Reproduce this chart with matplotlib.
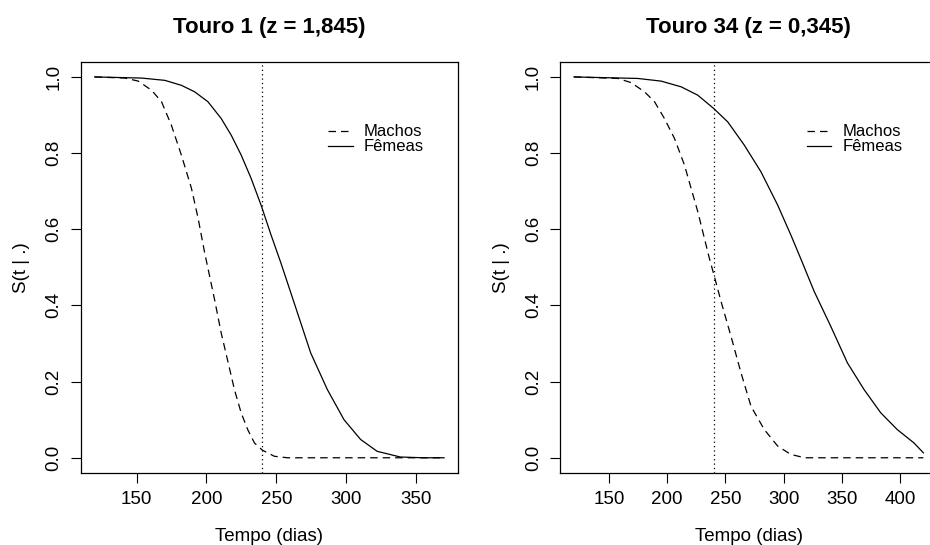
import matplotlib
matplotlib.use("Agg")
import matplotlib.pyplot as plt

plt.rcParams['font.family'] = ['Liberation Sans', 'DejaVu Sans']

# Touro 1 (z = 1,845) - survival curves
t1_femeas = [120, 153.6, 170.2, 182, 191.5, 201, 210.5, 217.7, 224.8, 231.9, 239, 246.2, 253.3, 262.8,
             274.6, 286.5, 298.4, 310.3, 322.1, 338.7, 355, 370]
s1_femeas = [1.0, 0.997, 0.991, 0.978, 0.961, 0.935, 0.891, 0.847, 0.795, 0.734, 0.664, 0.585, 0.511, 0.406,
             0.275, 0.179, 0.100, 0.048, 0.017, 0.002, 0.0, 0.0]
t1_machos = [120, 141.7, 151.2, 160.7, 167.8, 174.9, 182, 189.2, 194, 198.6, 205.8, 210.5, 215.3, 220,
             224.8, 229.5, 234.3, 240, 248.5, 258, 300, 370]
s1_machos = [1.0, 0.997, 0.989, 0.965, 0.935, 0.873, 0.795, 0.708, 0.629, 0.540, 0.415, 0.328, 0.253, 0.179,
             0.118, 0.074, 0.039, 0.020, 0.004, 0.0, 0.0, 0.0]

# Touro 34 (z = 0,345)
t34_femeas = [120, 174.8, 194.8, 212, 226.3, 240, 252, 266.2, 280.5, 294.8, 306.2, 314.8, 326.2, 340.5,
              354.8, 369.1, 383.4, 397.6, 411.9, 420]
s34_femeas = [1.0, 0.996, 0.989, 0.974, 0.952, 0.917, 0.882, 0.821, 0.751, 0.664, 0.585, 0.522, 0.437, 0.345,
              0.249, 0.179, 0.118, 0.074, 0.039, 0.013]
t34_machos = [120, 157.7, 169.1, 180.5, 189.1, 197.6, 206.2, 214.8, 220.5, 226.3, 231.9, 236.2, 240, 246.3,
              254.8, 263.4, 272, 283.4, 294.8, 306, 318, 360, 420]
s34_machos = [1.0, 0.996, 0.985, 0.961, 0.935, 0.891, 0.839, 0.769, 0.708, 0.646, 0.577, 0.524, 0.482, 0.410,
              0.319, 0.223, 0.135, 0.074, 0.031, 0.009, 0.0, 0.0, 0.0]

panels = [
    ("Touro 1 (z = 1,845)", t1_machos, s1_machos, t1_femeas, s1_femeas, (110, 380), [150, 200, 250, 300, 350]),
    ("Touro 34 (z = 0,345)", t34_machos, s34_machos, t34_femeas, s34_femeas, (108, 432), [150, 200, 250, 300, 350, 400]),
]
corte = 240

fig = plt.figure(figsize=(9.3, 5.45), dpi=100)
lefts = [0.0868, 0.6022]

for left, (title, tm, sm, tf, sf, xlim, xticks) in zip(lefts, panels):
    ax = fig.add_axes([left, 0.1321, 0.4057, 0.7547])
    ax.plot(tm, sm, color="black", lw=0.9, linestyle=(0, (6, 4)))
    ax.plot(tf, sf, color="black", lw=0.9)
    ax.axvline(corte, color="black", lw=0.9, linestyle=(0, (1, 2.5)))

    ax.set_xlim(*xlim)
    ax.set_ylim(-0.04, 1.04)
    ax.set_xticks(xticks)
    ax.set_yticks([0.0, 0.2, 0.4, 0.6, 0.8, 1.0])
    ax.set_yticklabels(["0.0", "0.2", "0.4", "0.6", "0.8", "1.0"], rotation=90, va="center")
    ax.tick_params(length=7, width=0.8, labelsize=13.5, pad=6, colors="black")
    for s in ax.spines.values():
        s.set_linewidth(0.9)

    ax.set_title(title, fontsize=16, fontweight="bold", pad=21)
    ax.set_xlabel("Tempo (dias)", fontsize=13.5, labelpad=14)
    ax.set_ylabel("S(t | .)", fontsize=13.5, labelpad=11)

    # legend, drawn like R's legend(bty = "n")
    lx0 = (328 - 80.7) / 377.3 if left < 0.5 else (806.7 - 560) / 377.3
    lx1 = lx0 + 24.5 / 377.3
    tx = lx1 + 11.5 / 377.3
    ya = 0.831
    yb = 0.794
    ax.plot([lx0, lx1], [ya, ya], transform=ax.transAxes, color="black", lw=0.9, linestyle=(0, (6, 4)))
    ax.plot([lx0, lx1], [yb, yb], transform=ax.transAxes, color="black", lw=0.9)
    ax.text(tx, ya, "Machos", transform=ax.transAxes, fontsize=12, va="center", ha="left")
    ax.text(tx, yb, "Fêmeas", transform=ax.transAxes, fontsize=12, va="center", ha="left")

fig.savefig("out.png", dpi=100)
